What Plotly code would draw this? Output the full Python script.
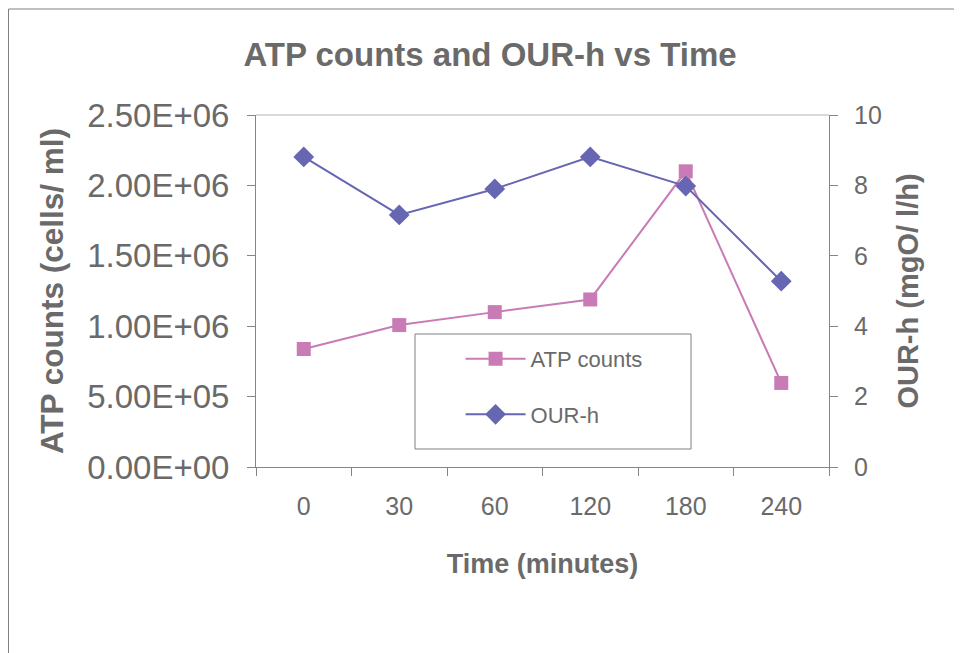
import plotly.graph_objects as go

# ---- data ----
time_labels = ["0", "30", "60", "120", "180", "240"]
atp_counts = [8.38e5, 1.008e6, 1.10e6, 1.19e6, 2.10e6, 5.97e5]
our_h = [8.81, 7.16, 7.90, 8.81, 7.98, 5.28]

left_tickvals = [0, 5e5, 1e6, 1.5e6, 2e6, 2.5e6]
left_ticktext = ["0.00E+00", "5.00E+05", "1.00E+06", "1.50E+06", "2.00E+06", "2.50E+06"]
right_tickvals = [0, 2, 4, 6, 8, 10]

TXT = "#6a6a6a"
AX = "#868686"
ATP_C = "#C97BB6"
OUR_C = "#6666B3"
FONT = "Liberation Sans, Arial, sans-serif"

# figure geometry (page has an 8px body offset)
ML, MT, PW, PH = 248, 107, 573, 352
W, H = 962, 653

fig = go.Figure()
fig.add_trace(go.Scatter(
    x=time_labels, y=atp_counts, name="ATP counts", mode="lines+markers",
    line=dict(color=ATP_C, width=2),
    marker=dict(symbol="square", size=14, color=ATP_C),
    yaxis="y", legendgroup="a"))
fig.add_trace(go.Scatter(
    x=time_labels, y=our_h, name="OUR-h", mode="lines+markers",
    line=dict(color=OUR_C, width=2),
    marker=dict(symbol="diamond", size=16, color=OUR_C),
    yaxis="y2", legendgroup="b"))


def px(xf):
    return (xf - ML) / PW


def py(yf):
    return (MT + PH - yf) / PH


n = len(time_labels)
TL = 8
fig.update_layout(
    width=W, height=H,
    margin=dict(l=ML, r=W - ML - PW, t=MT, b=H - MT - PH),
    paper_bgcolor="white", plot_bgcolor="white",
    font=dict(family=FONT, color=TXT),
    title=dict(text="<b>ATP counts and OUR-h vs Time</b>",
               font=dict(size=33, color=TXT, family=FONT),
               x=482 / W, xref="container", xanchor="center",
               y=1 - 46 / H, yref="container", yanchor="middle"),
    xaxis=dict(type="category", categoryorder="array", categoryarray=time_labels,
               range=[-0.5, n - 0.5],
               showline=True, linecolor=AX, linewidth=1,
               ticks="outside", tickson="boundaries", ticklen=TL, tickcolor=AX,
               showgrid=False, zeroline=False,
               tickfont=dict(size=25, color=TXT), ticklabelstandoff=17,
               title=dict(text="<b>Time (minutes)</b>", font=dict(size=27, color=TXT),
                          standoff=35)),
    xaxis2=dict(overlaying="x", anchor="y", range=[-0.5, n - 0.5],
                tickmode="linear", tick0=-0.5, dtick=1,
                ticks="inside", ticklen=TL, tickcolor=AX,
                showticklabels=False, showgrid=False, zeroline=False, showline=False),
    yaxis=dict(range=[0, 2.5e6], tickvals=left_tickvals, ticktext=left_ticktext,
               showline=True, linecolor=AX, linewidth=1,
               ticks="outside", ticklen=TL, tickcolor=AX,
               showgrid=False, zeroline=False,
               tickfont=dict(size=33, color=TXT), ticklabelstandoff=11,
               title=dict(text="<b>ATP counts (cells/ ml)</b>", font=dict(size=31.5, color=TXT),
                          standoff=14)),
    yaxis2=dict(range=[0, 10], tickvals=right_tickvals, overlaying="y", side="right",
                anchor="x",
                showline=True, linecolor=AX, linewidth=1,
                ticks="outside", ticklen=TL, tickcolor=AX,
                showgrid=False, zeroline=False,
                tickfont=dict(size=25, color=TXT), ticklabelstandoff=11,
                title=dict(text="<b>OUR-h (mgO/ l/h)</b>", font=dict(size=29, color=TXT),
                           standoff=16)),
    yaxis3=dict(range=[0, 2.5e6], tickvals=left_tickvals, overlaying="y", side="left",
                anchor="x", ticks="inside", ticklen=TL, tickcolor=AX,
                showticklabels=False, showgrid=False, zeroline=False, showline=False),
    yaxis4=dict(range=[0, 10], tickvals=right_tickvals, overlaying="y", side="right",
                anchor="x", ticks="inside", ticklen=TL, tickcolor=AX,
                showticklabels=False, showgrid=False, zeroline=False, showline=False),
    legend=dict(x=0.357, y=0.3668, xanchor="left", yanchor="top",
                bgcolor="rgba(0,0,0,0)", borderwidth=0,
                font=dict(size=22, color=TXT), itemwidth=60,
                traceorder="grouped", tracegroupgap=24),
    showlegend=True,
    shapes=[
        # legend frame
        dict(type="rect", xref="paper", yref="paper",
             x0=px(407), x1=px(683), y0=py(441), y1=py(326),
             line=dict(color="#808080", width=1), fillcolor="white", layer="below"),
        # plot area top border
        dict(type="line", xref="paper", yref="paper", x0=0, x1=1, y0=1, y1=1,
             line=dict(color="#d9d9d9", width=2), layer="below"),
        # chart area frame (top and left)
        dict(type="line", xref="paper", yref="paper",
             x0=px(0.5), x1=2, y0=py(1), y1=py(1),
             line=dict(color="#808080", width=1)),
        dict(type="line", xref="paper", yref="paper",
             x0=px(0.5), x1=px(0.5), y0=-2, y1=py(1),
             line=dict(color="#808080", width=1)),
    ],
)

fig.write_html("out.html")
